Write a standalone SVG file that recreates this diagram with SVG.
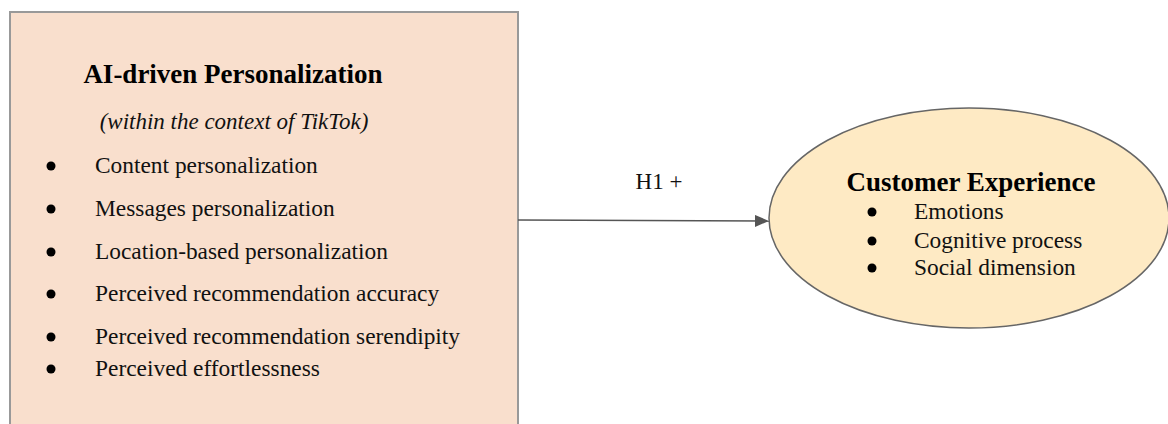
<svg xmlns="http://www.w3.org/2000/svg" width="1168" height="424" viewBox="0 0 1168 424">
  <style>
    .title { font-family: "Liberation Serif", "Times New Roman", serif; font-weight: bold; font-size: 27px; fill: #000; }
    .sub { font-family: "Liberation Serif", "Times New Roman", serif; font-style: italic; font-size: 23px; fill: #111; }
    .item { font-family: "Liberation Serif", "Times New Roman", serif; font-size: 23.4px; fill: #111; }
    .label { font-family: "Liberation Serif", "Times New Roman", serif; font-size: 23px; fill: #111; }
    .dot { fill: #000; }
  </style>
  <defs>
    <marker id="arrow" markerWidth="14" markerHeight="12" refX="14" refY="6" orient="auto" markerUnits="userSpaceOnUse">
      <path d="M0,0 L14,6 L0,12 Z" fill="#555"/>
    </marker>
  </defs>
  <rect width="1168" height="424" fill="#fff"/>

  <!-- Independent construct: AI-driven personalization -->
  <g id="ai-personalization">
    <rect x="10" y="12" width="508" height="430" fill="#f9dfcd" stroke="#999" stroke-width="2"/>
    <text class="title" x="233" y="83" text-anchor="middle">AI-driven Personalization</text>
    <text class="sub" x="234" y="129" text-anchor="middle">(within the context of TikTok)</text>
    <circle class="dot" cx="51" cy="166" r="4.5"/>
    <text class="item" x="95" y="173">Content personalization</text>
    <circle class="dot" cx="51" cy="209" r="4.5"/>
    <text class="item" x="95" y="216">Messages personalization</text>
    <circle class="dot" cx="51" cy="252" r="4.5"/>
    <text class="item" x="95" y="259">Location-based personalization</text>
    <circle class="dot" cx="51" cy="294" r="4.5"/>
    <text class="item" x="95" y="301">Perceived recommendation accuracy</text>
    <circle class="dot" cx="51" cy="337" r="4.5"/>
    <text class="item" x="95" y="344">Perceived recommendation serendipity</text>
    <circle class="dot" cx="51" cy="369" r="4.5"/>
    <text class="item" x="95" y="376">Perceived effortlessness</text>
  </g>

  <!-- Dependent construct: customer experience -->
  <g id="customer-experience">
    <ellipse cx="969" cy="218" rx="200" ry="110" fill="#feeac4" stroke="#666" stroke-width="1.5"/>
    <text class="title" x="971" y="191" text-anchor="middle">Customer Experience</text>
    <circle class="dot" cx="872" cy="212" r="4.5"/>
    <text class="item" x="914" y="219">Emotions</text>
    <circle class="dot" cx="872" cy="241" r="4.5"/>
    <text class="item" x="914" y="248">Cognitive process</text>
    <circle class="dot" cx="872" cy="268" r="4.5"/>
    <text class="item" x="914" y="275">Social dimension</text>
  </g>

  <!-- Hypothesised path -->
  <g id="connectors">
    <line x1="518" y1="220" x2="769" y2="221" stroke="#555" stroke-width="1.5" marker-end="url(#arrow)"/>
    <text class="label" x="659" y="189" text-anchor="middle">H1 +</text>
  </g>
</svg>
